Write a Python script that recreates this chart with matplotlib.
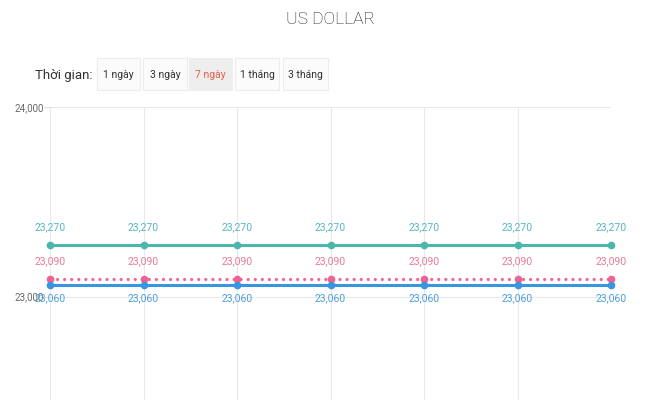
import matplotlib
matplotlib.use("Agg")
import matplotlib.pyplot as plt
from matplotlib.patches import FancyBboxPatch

days = list(range(7))
buy_cash = [23060, 23060, 23060, 23060, 23060, 23060, 23060]
buy_transfer = [23090, 23090, 23090, 23090, 23090, 23090, 23090]
sell = [23270, 23270, 23270, 23270, 23270, 23270, 23270]
yticks = [23000, 24000]
buttons = ["1 ngày", "3 ngày", "7 ngày", "1 tháng", "3 tháng"]
selected = "7 ngày"
title = "US DOLLAR"

plt.rcParams['font.family'] = ['Roboto', 'DejaVu Sans']

W, H = 660, 400
fig = plt.figure(figsize=(6.6, 4.0), dpi=100)

def fx(px):
    return px / W

def fy(py):
    return 1 - py / H

ax = fig.add_axes([fx(50), 0, fx(611) - fx(50), fy(107)])
y_per_px = 1000 / 189.5
ymin = 23000 - (400 - 296.5) * y_per_px
ax.set_ylim(ymin, 24000)
ax.set_xlim(0, 6)

for s in ax.spines.values():
    s.set_visible(False)
ax.set_yticks(yticks)
ax.set_yticklabels([f"{v:,}" for v in yticks])
ax.tick_params(axis='y', length=4, color='#dddddd', labelsize=7, labelcolor='#666666', pad=0.5)
ax.set_xticks(days)
ax.set_xticklabels([])
ax.tick_params(axis='x', length=0)
ax.grid(True, color='#e8e8ee', linewidth=0.8)
ax.set_axisbelow(True)

teal = '#4db6ac'
pink = '#f06292'
blue = '#3a95e0'

ax.plot(days, sell, color=teal, lw=2.2, marker='o', ms=4.5, clip_on=False, zorder=3)
ax.plot(days, buy_transfer, color=pink, lw=2.3, ls=(0, (0.01, 2.2)), marker='o', ms=4.5,
        clip_on=False, zorder=3, dash_capstyle='round')
ax.plot(days, buy_cash, color=blue, lw=2.2, marker='o', ms=4.5, clip_on=False, zorder=4)

LS = 7.5
for x, v in zip(days, sell):
    ax.annotate(f"{v:,}", (x, v), xytext=(0, 9.5), textcoords='offset points',
                ha='center', va='bottom', fontsize=LS, color='#57b5c6', zorder=5)
for x, v in zip(days, buy_transfer):
    ax.annotate(f"{v:,}", (x, v), xytext=(0, 9.5), textcoords='offset points',
                ha='center', va='bottom', fontsize=LS, color='#e97a98', zorder=5)
for x, v in zip(days, buy_cash):
    ax.annotate(f"{v:,}", (x, v), xytext=(0, -5.5), textcoords='offset points',
                ha='center', va='top', fontsize=LS, color='#4a9fdc', zorder=5)

fig.text(fx(330), fy(20), title, ha='center', va='center', fontsize=12.5,
         color='#222222', fontweight='light')

fig.text(fx(93), fy(75), "Thời gian:", ha='right', va='center', fontsize=9.5, color='#333333')
bx = [(97, 140), (143, 187), (189, 232), (235, 279), (283, 328)]
for (x0, x1), lab in zip(bx, buttons):
    sel = lab == selected
    rect = FancyBboxPatch((fx(x0), fy(90)), fx(x1) - fx(x0), fy(58) - fy(90),
                          boxstyle="square,pad=0", transform=fig.transFigure,
                          facecolor='#eeeeee' if sel else '#fbfbfb',
                          edgecolor='#eeeeee' if sel else '#ececec', lw=0.8)
    fig.patches.append(rect)
    fig.text(fx((x0 + x1) / 2), fy(75), lab, ha='center', va='center', fontsize=7.5,
             color='#e8604c' if sel else '#333333')

fig.savefig("out.png", dpi=100)
